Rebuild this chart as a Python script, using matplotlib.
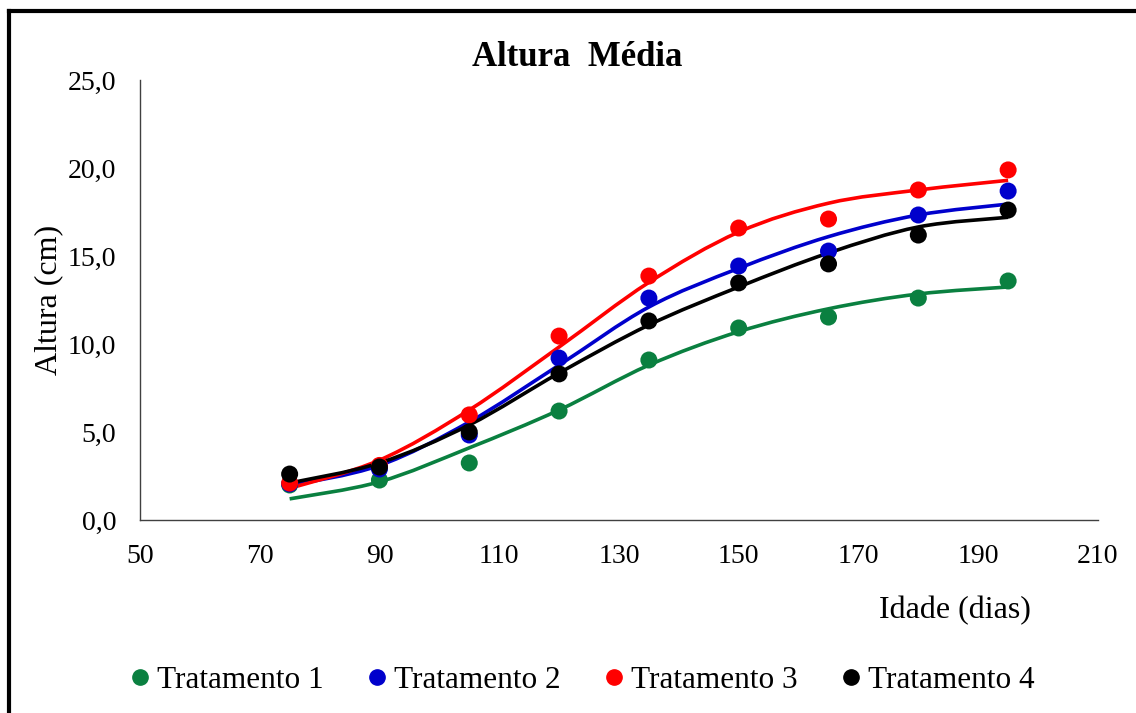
import numpy as np
import matplotlib.pyplot as plt
from matplotlib.path import Path
from matplotlib.patches import PathPatch
from matplotlib.lines import Line2D

plt.rcParams['font.family'] = ['Liberation Serif', 'DejaVu Serif']

# observed data
dias = [75, 90, 105, 120, 135, 150, 165, 180, 195]
trat1 = [1.99, 2.27, 3.24, 6.19, 9.09, 10.91, 11.53, 12.61, 13.58]
trat2 = [2.05, 2.90, 4.83, 9.20, 12.61, 14.43, 15.28, 17.33, 18.69]
trat3 = [2.10, 3.10, 5.97, 10.45, 13.86, 16.59, 17.10, 18.75, 19.89]
trat4 = [2.61, 3.01, 5.00, 8.30, 11.31, 13.47, 14.55, 16.19, 17.61]

# fitted curve values
fit1 = [1.20, 2.17, 4.10, 6.25, 8.80, 10.70, 12.00, 12.84, 13.24]
fit2 = [1.95, 3.10, 5.57, 8.80, 12.10, 14.30, 16.10, 17.33, 17.95]
fit3 = [1.80, 3.40, 6.25, 9.83, 13.50, 16.36, 18.00, 18.75, 19.30]
fit4 = [2.10, 3.24, 5.40, 8.35, 11.08, 13.24, 15.17, 16.65, 17.20]

nomes = ['Tratamento 1', 'Tratamento 2', 'Tratamento 3', 'Tratamento 4']
cores = ['#0A8040', '#0000CC', '#FF0000', '#000000']


def smooth_path(x, y, t=1/6):
    # Excel-like smoothed line through the points (cubic bezier)
    x = np.asarray(x, float)
    y = np.asarray(y, float)
    n = len(x)
    verts = [(x[0], y[0])]
    codes = [Path.MOVETO]
    for i in range(n - 1):
        x0, y0 = (x[i - 1], y[i - 1]) if i > 0 else (x[i], y[i])
        x3, y3 = (x[i + 2], y[i + 2]) if i + 2 < n else (x[i + 1], y[i + 1])
        c1 = (x[i] + (x[i + 1] - x0) * t, y[i] + (y[i + 1] - y0) * t)
        c2 = (x[i + 1] - (x3 - x[i]) * t, y[i + 1] - (y3 - y[i]) * t)
        verts += [c1, c2, (x[i + 1], y[i + 1])]
        codes += [Path.CURVE4] * 3
    return Path(verts, codes)


fig = plt.figure(figsize=(11.36, 7.13), dpi=100)
ax = fig.add_axes([0.1232, 0.2707, 0.8433, 0.6171])

for obs, fit, cor, nome in zip([trat1, trat2, trat3, trat4],
                               [fit1, fit2, fit3, fit4], cores, nomes):
    patch = PathPatch(smooth_path(dias, fit), facecolor='none',
                      edgecolor=cor, lw=2.6, zorder=2)
    ax.add_patch(patch)
    ax.scatter(dias, obs, s=150, color=cor, zorder=3, label=nome,
               edgecolors='none')

ax.set_xlim(50, 210)
ax.set_ylim(0, 25)
ax.set_xticks(range(50, 211, 20))
ax.set_yticks(np.arange(0, 25.1, 5))
ax.set_yticklabels([f'{v:.1f}'.replace('.', ',') for v in np.arange(0, 25.1, 5)])
ax.tick_params(length=0, labelsize=20)
ax.tick_params(axis='x', pad=17)
ax.tick_params(axis='y', pad=17)
for s in ['top', 'right']:
    ax.spines[s].set_visible(False)
for s in ['left', 'bottom']:
    ax.spines[s].set_color('#404040')
    ax.spines[s].set_linewidth(1.0)

fig.text(0.508, 0.920, 'Altura  Média', ha='center', va='center',
         fontsize=25, fontweight='bold')
fig.text(0.043, 0.58, 'Altura (cm)', rotation=90, ha='center', va='center',
         fontsize=23)
fig.text(0.841, 0.143, 'Idade (dias)', ha='center', va='center', fontsize=23)

handles = [Line2D([], [], marker='o', ls='none', color=c, markersize=11)
           for c in cores]
fig.legend(handles, nomes, loc='center', bbox_to_anchor=(0.510, 0.045),
           ncol=4, frameon=False, fontsize=22.5, handletextpad=0.05,
           columnspacing=1.2, handlelength=1.0)

# outer frame (top and left visible)
fig.add_artist(Line2D([0.0075, 1.0], [0.984, 0.984], color='black', lw=3,
                      transform=fig.transFigure))
fig.add_artist(Line2D([0.0075, 0.0075], [0.0, 0.984], color='black', lw=3,
                      transform=fig.transFigure))

fig.savefig('out.png', dpi=100, facecolor='white')
